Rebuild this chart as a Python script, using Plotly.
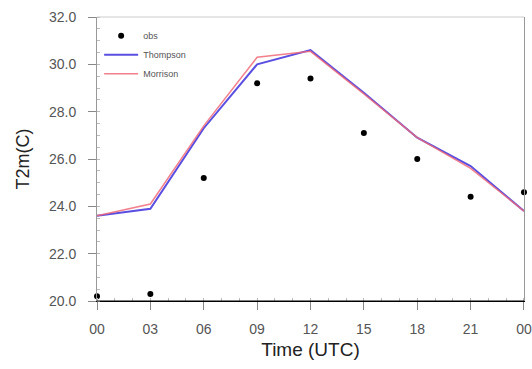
import plotly.graph_objects as go

hours = [0, 3, 6, 9, 12, 15, 18, 21, 24]
tick_labels = ["00", "03", "06", "09", "12", "15", "18", "21", "00"]
obs = [20.2, 20.3, 25.2, 29.2, 29.4, 27.1, 26.0, 24.4, 24.6]
thompson = [23.6, 23.9, 27.3, 30.0, 30.6, 28.8, 26.9, 25.7, 23.8]
morrison = [23.6, 24.1, 27.4, 30.3, 30.55, 28.75, 26.9, 25.6, 23.8]

fig = go.Figure()
fig.add_trace(go.Scatter(x=hours, y=obs, mode="markers", name="obs",
                         marker=dict(color="black", size=6), cliponaxis=False))
fig.add_trace(go.Scatter(x=hours, y=thompson, mode="lines", name="Thompson",
                         line=dict(color="#5a4fe0", width=2)))
fig.add_trace(go.Scatter(x=hours, y=morrison, mode="lines", name="Morrison",
                         line=dict(color="#f06a78", width=1.5), opacity=0.85))

font_family = "Liberation Sans, Arial, sans-serif"
fig.update_layout(
    width=532, height=369,
    margin=dict(l=97, r=8, t=17, b=68, autoexpand=False),
    plot_bgcolor="white", paper_bgcolor="white",
    font=dict(family=font_family, color="#444"),
    showlegend=True,
    legend=dict(x=0.005, y=0.985, xanchor="left", yanchor="top",
                font=dict(size=9, color="#555"), bgcolor="rgba(0,0,0,0)",
                itemwidth=34, tracegroupgap=6),
    xaxis=dict(range=[0, 24.001], tickvals=hours, ticktext=tick_labels,
               automargin=False,
               showgrid=False, zeroline=False, showline=True,
               linecolor="black", linewidth=1,
               ticks="outside", ticklen=8, tickcolor="#888",
               ticklabelstandoff=7,
               tickfont=dict(size=14, color="#555"),
               minor=dict(dtick=1, ticks="inside", ticklen=3, tickcolor="#bbb"),
               title=dict(text="Time (UTC)", font=dict(size=19, color="#222"), standoff=6)),
    yaxis=dict(range=[20, 32], dtick=2, tickformat=".1f",
               automargin=False,
               showgrid=False, zeroline=False, showline=True,
               linecolor="#999", linewidth=1, mirror=True,
               ticks="outside", ticklen=8, tickcolor="#888",
               ticklabelstandoff=9,
               tickfont=dict(size=14, color="#555"),
               minor=dict(dtick=0.5, ticks="inside", ticklen=3, tickcolor="#bbb"),
               title=dict(text="T2m(C)", font=dict(size=18, color="#222"), standoff=14)),
)
fig.add_shape(type="line", xref="paper", yref="paper", x0=0, x1=1, y0=1, y1=1,
              line=dict(color="#ccc", width=1))
fig.add_shape(type="line", xref="paper", yref="paper", x0=0, x1=1, y0=0, y1=0,
              line=dict(color="black", width=1))

fig.write_html("out.html")
